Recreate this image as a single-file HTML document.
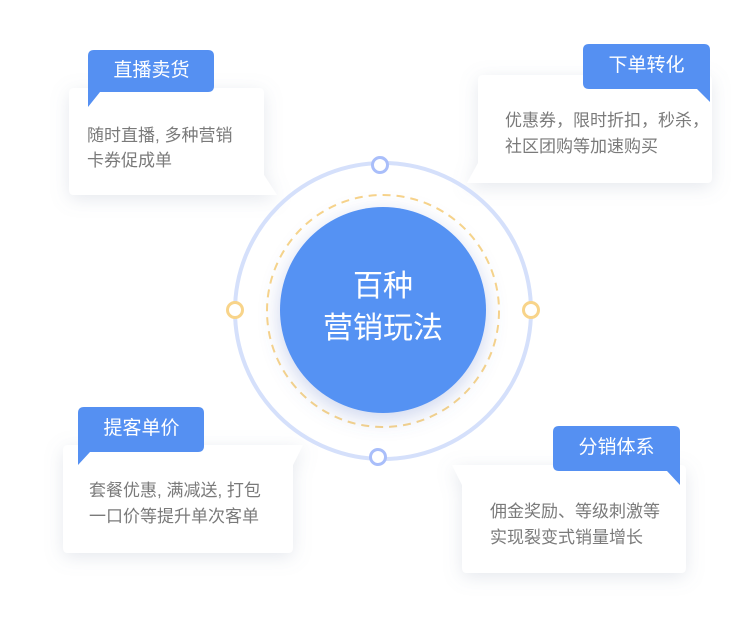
<!DOCTYPE html>
<html><head><meta charset="utf-8"><style>
body{margin:0;width:756px;height:636px;background:#fff;overflow:hidden;position:relative;font-family:"Liberation Sans","Noto Sans CJK SC",sans-serif}
svg{position:absolute;left:0;top:0}
.t{position:absolute;color:#7a7a7a;font-size:17px;line-height:26px;white-space:nowrap}
.g{position:absolute;color:#fff;font-size:19px;line-height:44px;text-align:center;width:127px}
.c{position:absolute;left:283px;top:266px;width:200px;text-align:center;color:#fff;font-size:30px;line-height:42px}
</style></head><body>
<svg width="756" height="636">
<defs>
<filter id="s" x="-30%" y="-30%" width="160%" height="160%"><feDropShadow dx="0" dy="4" stdDeviation="9" flood-color="#8a94b0" flood-opacity="0.22"/></filter>
<filter id="s2" x="-40%" y="-40%" width="180%" height="180%"><feDropShadow dx="0" dy="6" stdDeviation="10" flood-color="#5a78c8" flood-opacity="0.3"/></filter>
</defs>
<path d="M74 88 H259 Q264 88 264 93 V175 L277 195 H74 Q69 195 69 190 V93 Q69 88 74 88Z" fill="#fff" filter="url(#s)"/>
<path d="M483 75 H707 Q712 75 712 80 V178 Q712 183 707 183 H467 L478 163 V80 Q478 75 483 75Z" fill="#fff" filter="url(#s)"/>
<path d="M68 445 H303 L293 465 V548 Q293 553 288 553 H68 Q63 553 63 548 V450 Q63 445 68 445Z" fill="#fff" filter="url(#s)"/>
<path d="M452 465 H681 Q686 465 686 470 V568 Q686 573 681 573 H467 Q462 573 462 568 V485Z" fill="#fff" filter="url(#s)"/>
<path d="M94 50 H208 Q214 50 214 56 V86 Q214 92 208 92 H100 L88 107 V56 Q88 50 94 50Z" fill="#5590f2"/>
<path d="M589 44 H704 Q710 44 710 50 V102 L697 89 H589 Q583 89 583 83 V50 Q583 44 589 44Z" fill="#5590f2"/>
<path d="M84 407 H198 Q204 407 204 413 V446 Q204 452 198 452 H90 L78 465 V413 Q78 407 84 407Z" fill="#5590f2"/>
<path d="M559 426 H674 Q680 426 680 432 V485 L667 471 H559 Q553 471 553 465 V432 Q553 426 559 426Z" fill="#5590f2"/>
<circle cx="383" cy="311" r="148" fill="none" stroke="#d5e0fb" stroke-width="4"/>
<circle cx="383" cy="311" r="116" fill="none" stroke="#f8d48a" stroke-width="2" stroke-dasharray="8 6"/>
<circle cx="383" cy="310" r="103" fill="#5592f3" filter="url(#s2)"/>
<circle cx="380" cy="165" r="7.5" fill="#fff" stroke="#a9befa" stroke-width="3"/>
<circle cx="378" cy="457" r="7.5" fill="#fff" stroke="#a9befa" stroke-width="3"/>
<circle cx="235" cy="310" r="7.5" fill="#fff" stroke="#f8d48a" stroke-width="3"/>
<circle cx="531" cy="310" r="7.5" fill="#fff" stroke="#f8d48a" stroke-width="3"/>
</svg>
<div class="c">百种<br>营销玩法</div>
<div class="g" style="left:88px;top:49px">直播卖货</div>
<div class="g" style="left:583px;top:44px">下单转化</div>
<div class="g" style="left:78px;top:407px">提客单价</div>
<div class="g" style="left:553px;top:426px">分销体系</div>
<div class="t" style="left:87px;top:123px;line-height:25px">随时直播, 多种营销<br>卡券促成单</div>
<div class="t" style="left:505px;top:108px">优惠券，限时折扣，秒杀，<br>社区团购等加速购买</div>
<div class="t" style="left:89px;top:478px">套餐优惠, 满减送, 打包<br>一口价等提升单次客单</div>
<div class="t" style="left:490px;top:499px">佣金奖励、等级刺激等<br>实现裂变式销量增长</div>
</body></html>
